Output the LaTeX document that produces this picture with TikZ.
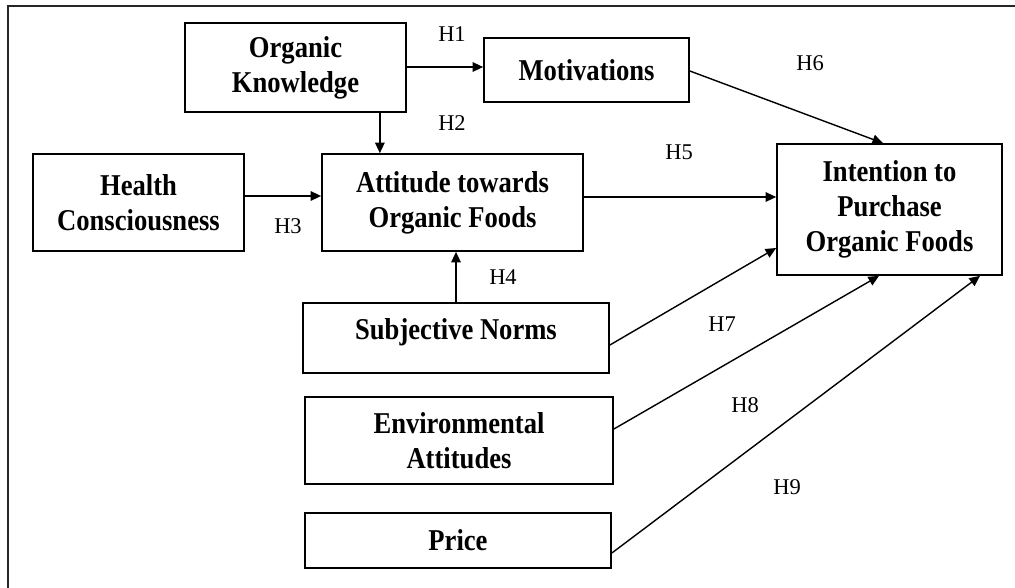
\documentclass[tikz,border=0pt]{standalone}
\usepackage{fontspec}
\setmainfont{Liberation Serif}
\newfontfamily\boxfont[FakeStretch=0.88]{Liberation Serif}
\usetikzlibrary{arrows.meta,calc}
\tikzset{
  box/.style={draw, line width=1.2pt, rectangle, inner sep=0pt, align=center,
    font=\boxfont\bfseries\fontsize{21.5}{25}\selectfont},
  hyp/.style={inner sep=0pt, font=\fontsize{16}{18}\selectfont},
  arr/.style={line width=1pt, -{Triangle[length=7.5pt,width=6.8pt]}},
  frame/.style={line width=1.6pt, draw=black!85}
}
\begin{document}
\begin{tikzpicture}[x=0.025cm,y=-0.025cm]
\useasboundingbox (0,0) rectangle (1015,587);
\draw[frame] (8,600) -- (8,6) -- (1030,6);

\node[box, minimum width=5.525cm, minimum height=2.225cm] (OK) at (295.5,67.5) {Organic\\Knowledge};
\node[box, minimum width=5.125cm, minimum height=1.6cm] (Mot) at (586.5,70) {Motivations};
\node[box, minimum width=5.275cm, minimum height=2.425cm] (HC) at (138.5,202.5) {Health\\Consciousness};
\node[box, minimum width=6.525cm, minimum height=2.425cm] (Att) at (452.5,202.5) {Attitude towards\\Organic Foods};
\node[box, minimum width=5.625cm, minimum height=3.275cm] (Int) at (889.5,209.5) {Intention to\\Purchase\\Organic Foods};
\node[box, minimum width=7.65cm, minimum height=1.75cm] (SN) at (456,338) {Subjective Norms\\[-12pt]\mbox{}};
\node[box, minimum width=7.7cm, minimum height=2.175cm] (Env) at (459,440.5) {Environmental\\Attitudes};
\node[box, minimum width=7.65cm, minimum height=1.375cm] (Price) at (458,540.5) {Price};

\node[hyp] (h1) at (452,34) {H1};
\node[hyp] (h2) at (452,123) {H2};
\node[hyp] (h3) at (288,226) {H3};
\node[hyp] (h4) at (503,277) {H4};
\node[hyp] (h5) at (679,152) {H5};
\node[hyp] (h6) at (810,63) {H6};
\node[hyp] (h7) at (722,324) {H7};
\node[hyp] (h8) at (745,405) {H8};
\node[hyp] (h9) at (787,487) {H9};

% connector start points
\coordinate (okE) at ($(OK.east)+(0,-0.5)$);
\coordinate (okS) at ($(OK.south east)+(-27,0)$);
\coordinate (hcE) at ($(HC.east)+(0,-6.5)$);
\coordinate (attE) at ($(Att.east)+(0,-5.5)$);
\coordinate (motE) at ($(Mot.east)+(0,1)$);
\coordinate (intN) at ($(Int.north)+(-6.5,0)$);
\coordinate (snE) at ($(SN.east)+(0,7)$);
\coordinate (intW) at ($(Int.west)+(0,38.5)$);
\coordinate (envE) at ($(Env.east)+(0,-11.5)$);
\coordinate (intS1) at ($(Int.south)+(-10.5,0)$);
\coordinate (prE) at ($(Price.east)+(0,12.5)$);
\coordinate (intS2) at ($(Int.south)+(90.5,0)$);

% arrows
\draw[arr] (okE) -- (okE -| Mot.west);
\draw[arr] (okS) -- (okS |- Att.north);
\draw[arr] (hcE) -- (hcE -| Att.west);
\draw[arr] (SN.north) -- (SN.north |- Att.south);
\draw[arr] (attE) -- (attE -| Int.west);
\draw[arr] (motE) -- (intN);
\draw[arr] (snE) -- (intW);
\draw[arr] (envE) -- (intS1);
\draw[arr] (prE) -- (intS2);
\end{tikzpicture}
\end{document}
